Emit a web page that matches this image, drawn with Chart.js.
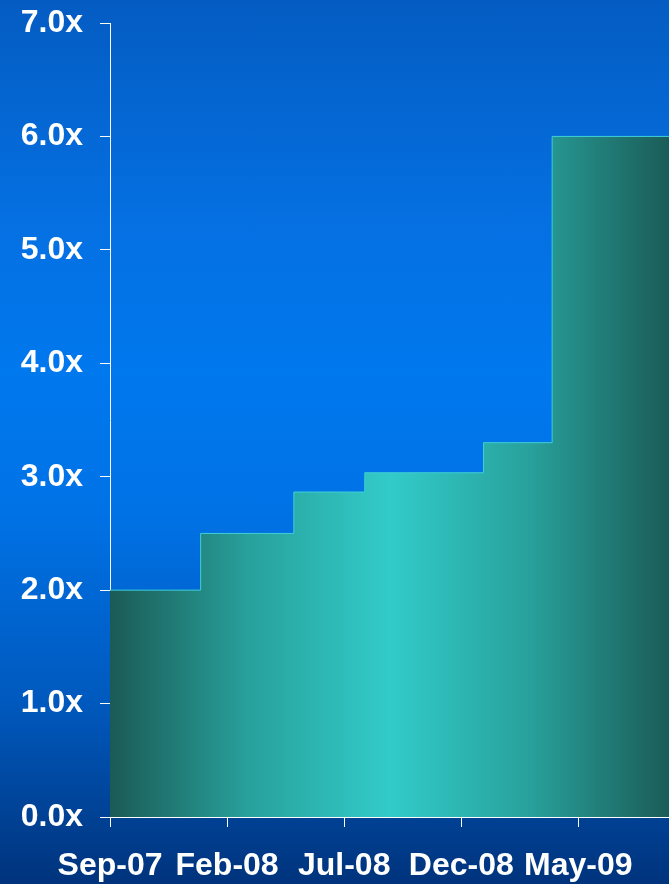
<!DOCTYPE html>
<html>
<head>
<meta charset="utf-8">
<script src="https://cdn.jsdelivr.net/npm/chart.js@4/dist/chart.umd.min.js"></script>
<style>
  html, body {
    margin: 0;
    padding: 0;
    width: 669px;
    height: 884px;
    overflow: hidden;
  }
  body {
    background: linear-gradient(to bottom, #045cc2 0%, #0570e2 25%, #0078ee 42%, #0072e6 58%, #0058bc 80%, #00337c 100%);
  }
  #wrap {
    position: relative;
    width: 669px;
    height: 884px;
  }
</style>
</head>
<body>
<div id="wrap"><canvas id="graficoMultiplo"></canvas></div>
<script>
// months after Sep-07 where the multiple changes, and the multiple from then on
const stepMonths = [0, 3.87, 7.85, 10.88, 15.95, 18.88, 23.87];
const multiples = [2.0, 2.5, 2.865, 3.035, 3.3, 6.0, 6.0];
const xTickLabels = ['Sep-07', 'Feb-08', 'Jul-08', 'Dec-08', 'May-09'];
const yTicks = [0, 1, 2, 3, 4, 5, 6, 7];

const puntos = stepMonths.map((m, i) => ({ x: m, y: multiples[i] }));

function rellenoTeal(context) {
    const { ctx, chartArea } = context.chart;
    if (!chartArea) return '#2aa6a0';
    const g = ctx.createLinearGradient(chartArea.left, 0, chartArea.right, 0);
    g.addColorStop(0, '#1b5a55');
    g.addColorStop(0.25, '#28a19c');
    g.addColorStop(0.5, '#32cbc9');
    g.addColorStop(0.75, '#28a19c');
    g.addColorStop(1, '#1b5c58');
    return g;
}

const fuente = { family: "'Liberation Sans', Arial, sans-serif", size: 32, weight: 'bold' };

const ctx = document.getElementById('graficoMultiplo').getContext('2d');

new Chart(ctx, {
    type: 'line',
    data: {
        datasets: [{
            data: puntos,
            stepped: true,
            fill: 'origin',
            backgroundColor: rellenoTeal,
            borderColor: '#3fd0d6',
            borderWidth: 1,
            pointRadius: 0
        }]
    },
    options: {
        responsive: true,
        maintainAspectRatio: false,
        animation: false,
        layout: {
            padding: { top: 23, right: 0, left: 0, bottom: 0 }
        },
        plugins: {
            legend: { display: false },
            tooltip: { enabled: false }
        },
        scales: {
            x: {
                type: 'linear',
                min: 0,
                max: stepMonths[stepMonths.length - 1],
                afterBuildTicks: (scale) => {
                    scale.ticks = xTickLabels.map((_, i) => ({ value: i * 5 }));
                },
                afterFit: (scale) => {
                    scale.height = 67;
                    scale.paddingLeft = 0;
                    scale.paddingRight = 0;
                },
                grid: {
                    drawOnChartArea: false,
                    color: '#ffffff',
                    tickLength: 10
                },
                border: { color: '#ffffff', width: 1 },
                ticks: {
                    color: '#ffffff',
                    font: fuente,
                    padding: 20,
                    maxRotation: 0,
                    autoSkip: false,
                    callback: (v) => xTickLabels[Math.round(v / 5)]
                }
            },
            y: {
                min: 0,
                max: 7,
                afterBuildTicks: (scale) => {
                    scale.ticks = yTicks.map(v => ({ value: v }));
                },
                afterFit: (scale) => {
                    scale.width = 110;
                    scale.paddingTop = 0;
                    scale.paddingBottom = 0;
                },
                grid: {
                    drawOnChartArea: false,
                    color: '#ffffff',
                    tickLength: 10
                },
                border: { color: '#ffffff', width: 1 },
                ticks: {
                    color: '#ffffff',
                    font: fuente,
                    padding: 17,
                    callback: (v) => v.toFixed(1) + 'x'
                }
            }
        }
    }
});
</script>
</body>
</html>
